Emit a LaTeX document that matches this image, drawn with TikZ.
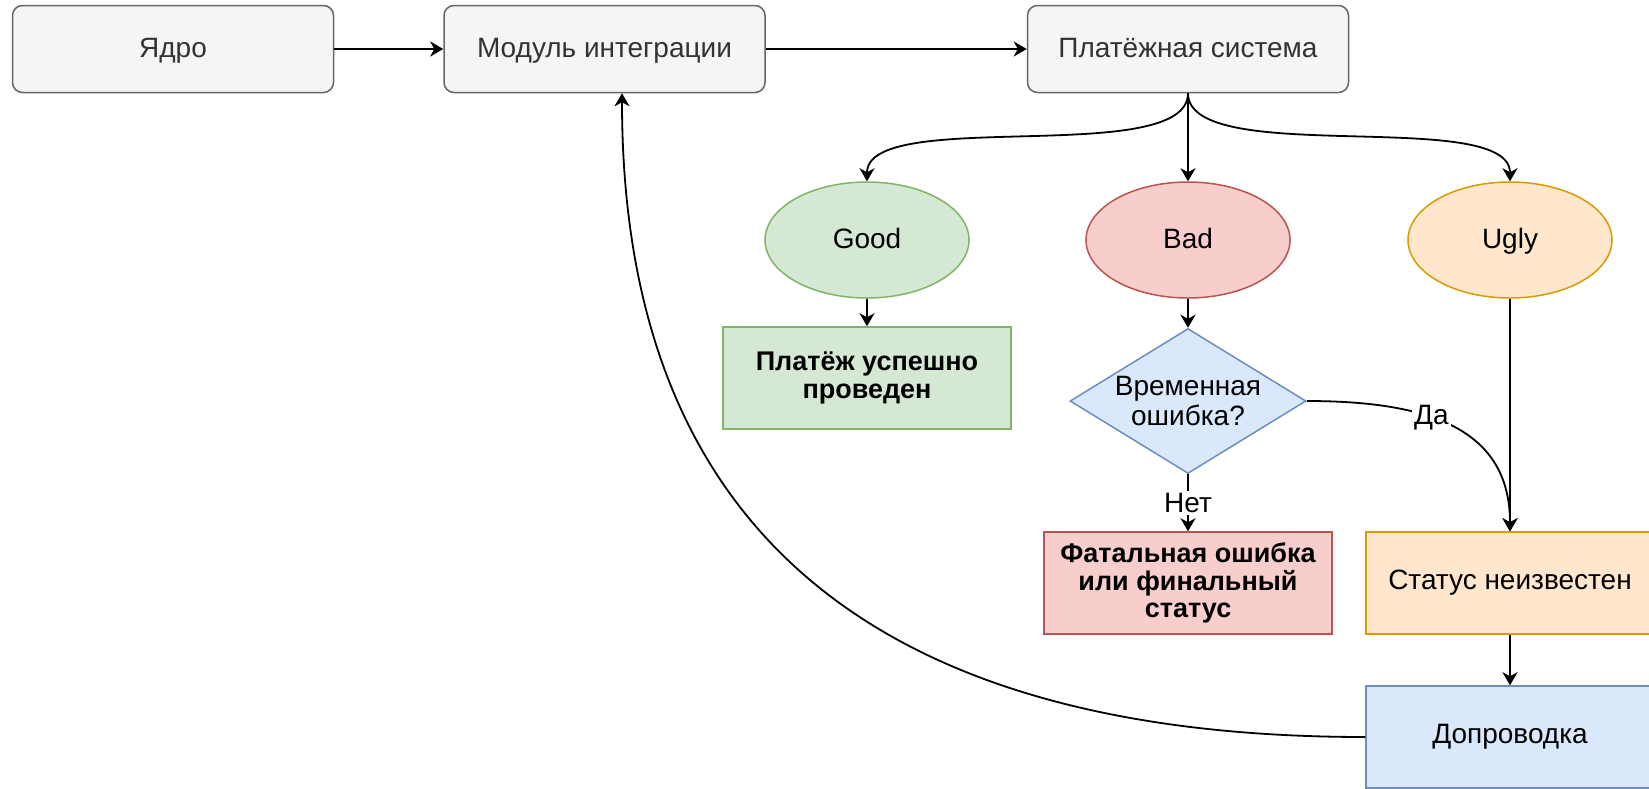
\documentclass[tikz,border=0pt]{standalone}
\usepackage{fontspec}
\setmainfont{Liberation Sans}
\usetikzlibrary{shapes.geometric,arrows.meta}

\definecolor{greyfill}{HTML}{F5F5F5}
\definecolor{greyline}{HTML}{666666}
\definecolor{greytext}{HTML}{333333}
\definecolor{greenfill}{HTML}{D5E8D4}
\definecolor{greenline}{HTML}{82B366}
\definecolor{redfill}{HTML}{F8CECC}
\definecolor{redline}{HTML}{B85450}
\definecolor{orangefill}{HTML}{FFE6CC}
\definecolor{orangeline}{HTML}{D79B00}
\definecolor{bluefill}{HTML}{DAE8FC}
\definecolor{blueline}{HTML}{6C8EBF}

\begin{document}
\begin{tikzpicture}[x=0.5pt,y=-0.5pt,
  font=\fontsize{14}{15}\selectfont,
  greybox/.style={draw=greyline, fill=greyfill, text=greytext, rounded corners=5pt,
    minimum width=160.5pt, minimum height=43.5pt, line width=0.75pt,
    text height=10pt, text depth=2pt},
  outcome/.style={ellipse, minimum width=102pt, minimum height=58pt, line width=0.75pt,
    text height=10pt, text depth=2pt},
  result/.style={rectangle, minimum width=144pt, minimum height=51pt, align=center,
    line width=0.75pt},
  boldres/.style={result, font=\fontsize{13.5}{13.8}\selectfont\bfseries},
  conn/.style={-{Stealth[length=6.5pt,width=7.5pt,inset=2pt]}, line width=0.9pt},
  lbl/.style={fill=white, inner sep=1pt}
]
\useasboundingbox (0,0) rectangle (1649,788);

% Draw top row
\node[greybox] (yadro) at (173,49) {Ядро};
\node[greybox] (modul) at (604.5,49) {Модуль интеграции};
\node[greybox] (pay) at (1188,49) {Платёжная система};

% Draw the three outcomes
\node[outcome, draw=greenline, fill=greenfill] (good) at (867,240) {Good};
\node[outcome, draw=redline, fill=redfill] (bad) at (1188,240) {Bad};
\node[outcome, draw=orangeline, fill=orangefill] (ugly) at (1510,240) {Ugly};

% Draw results
\node[boldres, draw=greenline, fill=greenfill] (ok) at (867,378) {Платёж успешно\\проведен};
\node[diamond, aspect=1.63, minimum width=118pt, minimum height=72.5pt, inner sep=0pt,
  draw=blueline, fill=bluefill, line width=0.75pt, align=center] (temp) at (1188,401)
  {Временная\\ошибка?};
\node[boldres, draw=redline, fill=redfill] (fatal) at (1188,583) {Фатальная ошибка\\или финальный\\статус};
\node[result, draw=orangeline, fill=orangefill] (unknown) at (1510,583) {Статус неизвестен};
\node[result, draw=blueline, fill=bluefill] (retry) at (1510,737) {Допроводка};

% Draw connectors
\draw[conn] (yadro) -- (modul);
\draw[conn] (modul) -- (pay);
\draw[conn] (pay.south) .. controls +(0,75) and +(0,-75) .. (good.north);
\draw[conn] (pay) -- (bad);
\draw[conn] (pay.south) .. controls +(0,75) and +(0,-75) .. (ugly.north);
\draw[conn] (good) -- (ok);
\draw[conn] (bad) -- (temp);
\draw[conn] (ugly) -- (unknown);
\draw[conn] (temp.east) .. controls +(123,0) and +(0,-102) .. node[pos=0.4, lbl] {Да} (unknown.north);
\draw[conn] (temp) -- node[lbl] {Нет} (fatal);
\draw[conn] (unknown) -- (retry);
\draw[conn] (retry.west) .. controls +(-566,0) and +(0,367) .. ([xshift=8.75pt]modul.south);
\end{tikzpicture}
\end{document}
